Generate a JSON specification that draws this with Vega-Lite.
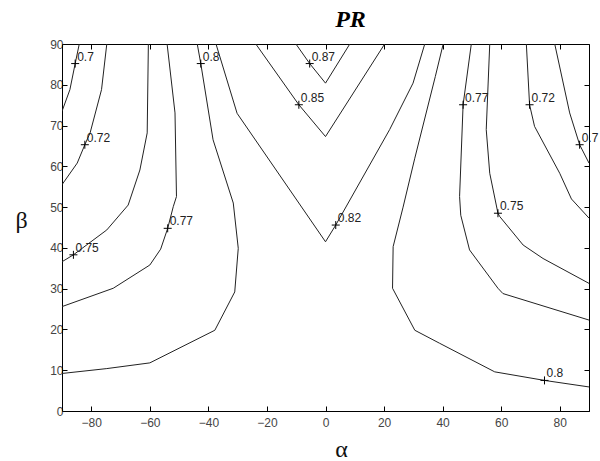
{
  "$schema": "https://vega.github.io/schema/vega-lite/v6.json",
  "width": 527,
  "height": 367,
  "autosize": {"type": "none"},
  "padding": {"left": 62, "top": 44, "right": 11, "bottom": 50},
  "background": "white",
  "config": {
    "view": {"stroke": "black", "strokeWidth": 1},
    "axis": {"grid": false, "domainColor": "black", "tickColor": "black", "labelColor": "#444", "labelFont": "Liberation Sans", "labelFontSize": 12, "tickSize": -5, "titleFont": "Liberation Serif", "titleFontWeight": "normal", "titleColor": "#111"}
  },
  "title": {"text": "PR", "font": "Liberation Serif", "fontSize": 24, "fontStyle": "italic", "fontWeight": "bold", "color": "black", "offset": 6, "dx": 25},
  "datasets": {
    "lines": [
      {"c": 1, "o": 1, "x": -84.1, "y": 90}, {"c": 1, "o": 2, "x": -85.5, "y": 85.2}, {"c": 1, "o": 3, "x": -87.3, "y": 78.8}, {"c": 1, "o": 4, "x": -90, "y": 73.5},
      {"c": 2, "o": 1, "x": -74.7, "y": 90}, {"c": 2, "o": 2, "x": -76.5, "y": 78.8}, {"c": 2, "o": 3, "x": -80.4, "y": 68.2}, {"c": 2, "o": 4, "x": -82.2, "y": 65.3}, {"c": 2, "o": 5, "x": -84.8, "y": 60.8}, {"c": 2, "o": 6, "x": -90, "y": 55.5},
      {"c": 3, "o": 1, "x": -60.5, "y": 90}, {"c": 3, "o": 2, "x": -60.9, "y": 68.2}, {"c": 3, "o": 3, "x": -63.4, "y": 59.1}, {"c": 3, "o": 4, "x": -67.4, "y": 50.5}, {"c": 3, "o": 5, "x": -74.7, "y": 44.4}, {"c": 3, "o": 6, "x": -86.1, "y": 38.3}, {"c": 3, "o": 7, "x": -90, "y": 36.6},
      {"c": 4, "o": 1, "x": -54.1, "y": 90}, {"c": 4, "o": 2, "x": -51.4, "y": 73.1}, {"c": 4, "o": 3, "x": -50.9, "y": 52.6}, {"c": 4, "o": 4, "x": -52.0, "y": 50.1}, {"c": 4, "o": 5, "x": -53.9, "y": 44.8}, {"c": 4, "o": 6, "x": -56.3, "y": 39.7}, {"c": 4, "o": 7, "x": -60, "y": 35.8}, {"c": 4, "o": 8, "x": -72.5, "y": 30.1}, {"c": 4, "o": 9, "x": -90, "y": 25.6},
      {"c": 5, "o": 1, "x": -43.8, "y": 90}, {"c": 5, "o": 2, "x": -42.6, "y": 85.2}, {"c": 5, "o": 3, "x": -38.4, "y": 66.5}, {"c": 5, "o": 4, "x": -31.5, "y": 51}, {"c": 5, "o": 5, "x": -29.8, "y": 39.9}, {"c": 5, "o": 6, "x": -31, "y": 29.2}, {"c": 5, "o": 7, "x": -37.8, "y": 19.8}, {"c": 5, "o": 8, "x": -60, "y": 11.8}, {"c": 5, "o": 9, "x": -74.7, "y": 10.4}, {"c": 5, "o": 10, "x": -90, "y": 9.2},
      {"c": 6, "o": 1, "x": -37.4, "y": 90}, {"c": 6, "o": 2, "x": -30.2, "y": 73}, {"c": 6, "o": 3, "x": 0, "y": 41.5}, {"c": 6, "o": 4, "x": 3.5, "y": 45.6}, {"c": 6, "o": 5, "x": 21.9, "y": 69}, {"c": 6, "o": 6, "x": 29.9, "y": 80.4}, {"c": 6, "o": 7, "x": 33.9, "y": 90},
      {"c": 7, "o": 1, "x": -23.8, "y": 90}, {"c": 7, "o": 2, "x": -9.1, "y": 75.1}, {"c": 7, "o": 3, "x": 0, "y": 67.3}, {"c": 7, "o": 4, "x": 20.2, "y": 90},
      {"c": 8, "o": 1, "x": -10.1, "y": 90}, {"c": 8, "o": 2, "x": -5.4, "y": 85.2}, {"c": 8, "o": 3, "x": 0, "y": 80.4}, {"c": 8, "o": 4, "x": 8.3, "y": 90},
      {"c": 9, "o": 1, "x": 40.2, "y": 90}, {"c": 9, "o": 2, "x": 37.5, "y": 82}, {"c": 9, "o": 3, "x": 30.5, "y": 62}, {"c": 9, "o": 4, "x": 26.5, "y": 50}, {"c": 9, "o": 5, "x": 23.1, "y": 40.3}, {"c": 9, "o": 6, "x": 22.9, "y": 30.1}, {"c": 9, "o": 7, "x": 30.5, "y": 19.8}, {"c": 9, "o": 8, "x": 39, "y": 16.6}, {"c": 9, "o": 9, "x": 57.8, "y": 9.6}, {"c": 9, "o": 10, "x": 74.8, "y": 7.5}, {"c": 9, "o": 11, "x": 90, "y": 5.9},
      {"c": 10, "o": 1, "x": 49.8, "y": 90}, {"c": 10, "o": 2, "x": 47, "y": 75.1}, {"c": 10, "o": 3, "x": 45.8, "y": 52.6}, {"c": 10, "o": 4, "x": 46.2, "y": 48}, {"c": 10, "o": 5, "x": 49.2, "y": 39.5}, {"c": 10, "o": 6, "x": 58.9, "y": 30.1}, {"c": 10, "o": 7, "x": 60.6, "y": 28.8}, {"c": 10, "o": 8, "x": 90, "y": 22.3},
      {"c": 11, "o": 1, "x": 56.1, "y": 90}, {"c": 11, "o": 2, "x": 54.9, "y": 69}, {"c": 11, "o": 3, "x": 56.1, "y": 58.3}, {"c": 11, "o": 4, "x": 58.9, "y": 48.5}, {"c": 11, "o": 5, "x": 59.5, "y": 47.7}, {"c": 11, "o": 6, "x": 67.5, "y": 40.7}, {"c": 11, "o": 7, "x": 74.3, "y": 37.4}, {"c": 11, "o": 8, "x": 90, "y": 31.3},
      {"c": 12, "o": 1, "x": 68.6, "y": 90}, {"c": 12, "o": 2, "x": 69.7, "y": 75.1}, {"c": 12, "o": 3, "x": 71.4, "y": 69.8}, {"c": 12, "o": 4, "x": 80, "y": 58.3}, {"c": 12, "o": 5, "x": 84, "y": 52}, {"c": 12, "o": 6, "x": 90, "y": 47.3},
      {"c": 13, "o": 1, "x": 78.3, "y": 90}, {"c": 13, "o": 2, "x": 83.4, "y": 73.1}, {"c": 13, "o": 3, "x": 86.8, "y": 65.3}, {"c": 13, "o": 4, "x": 90, "y": 60.8}
    ],
    "labels": [
      {"t": "0.7", "x": -85.5, "y": 85.2},
      {"t": "0.72", "x": -82.2, "y": 65.3},
      {"t": "0.75", "x": -86.1, "y": 38.3},
      {"t": "0.77", "x": -53.9, "y": 44.8},
      {"t": "0.8", "x": -42.6, "y": 85.2},
      {"t": "0.87", "x": -5.4, "y": 85.2},
      {"t": "0.85", "x": -9.1, "y": 75.1},
      {"t": "0.82", "x": 3.5, "y": 45.6},
      {"t": "0.77", "x": 47, "y": 75.1},
      {"t": "0.72", "x": 69.7, "y": 75.1},
      {"t": "0.7", "x": 86.8, "y": 65.3},
      {"t": "0.75", "x": 58.9, "y": 48.5},
      {"t": "0.8", "x": 74.8, "y": 7.5}
    ]
  },
  "resolve": {"axis": {"x": "independent", "y": "independent"}},
  "layer": [
    {
      "data": {"name": "lines"},
      "mark": {"type": "line", "stroke": "#222", "strokeWidth": 1, "clip": true},
      "encoding": {
        "x": {"field": "x", "type": "quantitative", "scale": {"domain": [-90, 90], "nice": false, "zero": false},
              "axis": {"values": [-80, -60, -40, -20, 0, 20, 40, 60, 80], "title": "α", "titleFontSize": 24, "labelPadding": 11, "titleX": 279, "titleY": 38, "titleBaseline": "middle", "titleAlign": "center"}},
        "y": {"field": "y", "type": "quantitative", "scale": {"domain": [0, 90], "nice": false},
              "axis": {"values": [0, 10, 20, 30, 40, 50, 60, 70, 80, 90], "title": "β", "titleAngle": 0, "titleBaseline": "middle", "titleAlign": "center", "titleFontSize": 24, "labelPadding": 4, "titleX": -41, "titleY": 176}},
        "detail": {"field": "c", "type": "nominal"},
        "order": {"field": "o", "type": "quantitative"}
      }
    },
    {
      "data": {"name": "labels"},
      "mark": {"type": "text", "align": "left", "baseline": "middle", "dx": 2, "dy": -7, "font": "Liberation Sans", "fontSize": 12, "color": "#222"},
      "encoding": {
        "x": {"field": "x", "type": "quantitative", "scale": {"domain": [-90, 90], "nice": false, "zero": false},
              "axis": {"orient": "top", "values": [-80, -60, -40, -20, 0, 20, 40, 60, 80], "labels": false, "title": null, "domain": false}},
        "y": {"field": "y", "type": "quantitative", "scale": {"domain": [0, 90], "nice": false},
              "axis": {"orient": "right", "values": [0, 10, 20, 30, 40, 50, 60, 70, 80, 90], "labels": false, "title": null, "domain": false}},
        "text": {"field": "t", "type": "nominal"}
      }
    },
    {
      "data": {"name": "labels"},
      "mark": {"type": "point", "shape": "M-1,0L1,0M0,-1L0,1", "size": 64, "filled": false, "stroke": "black", "strokeWidth": 1, "opacity": 1},
      "encoding": {
        "x": {"field": "x", "type": "quantitative", "axis": null},
        "y": {"field": "y", "type": "quantitative", "axis": null}
      }
    }
  ]
}
